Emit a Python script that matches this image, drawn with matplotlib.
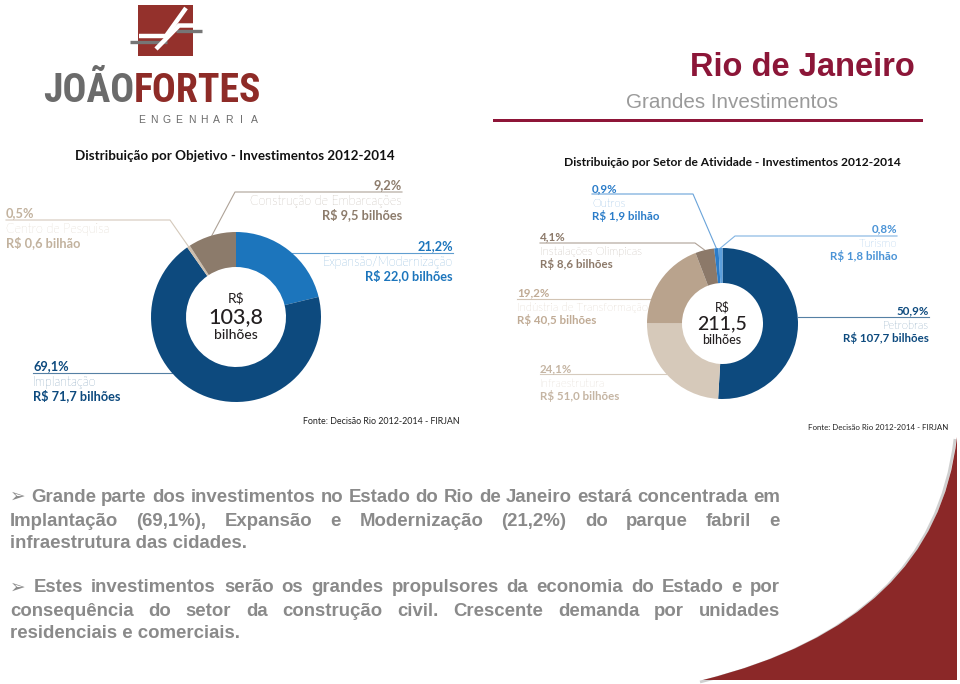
import numpy as np
import matplotlib
matplotlib.use('Agg')
import matplotlib.pyplot as plt
from matplotlib import font_manager
from matplotlib.patches import Rectangle, PathPatch
from matplotlib.path import Path

# ---- data ----
obj_title = 'Distribuição por Objetivo - Investimentos 2012-2014'
obj_names = ['Expansão/Modernização', 'Implantação', 'Centro de Pesquisa',
             'Construção de Embarcações']
obj_pct = ['21,2%', '69,1%', '0,5%', '9,2%']
obj_values = [22.0, 71.7, 0.6, 9.5]
obj_money = ['R$ 22,0 bilhões', 'R$ 71,7 bilhões', 'R$ 0,6 bilhão', 'R$ 9,5 bilhões']
obj_total = '103,8'

sec_title = 'Distribuição por Setor de Atividade - Investimentos 2012-2014'
sec_names = ['Petrobras', 'Infraestrutura', 'Indústria de Transformação',
             'Instalações Olimpicas', 'Outros', 'Turismo']
sec_pct = ['50,9%', '24,1%', '19,2%', '4,1%', '0,9%', '0,8%']
sec_values = [107.7, 51.0, 40.5, 8.6, 1.9, 1.8]
sec_money = ['R$ 107,7 bilhões', 'R$ 51,0 bilhões', 'R$ 40,5 bilhões',
             'R$ 8,6 bilhões', 'R$ 1,9 bilhão', 'R$ 1,8 bilhão']
sec_total = '211,5'

source = 'Fonte: Decisão Rio 2012-2014 - FIRJAN'

body_lines = [
    '➢ Grande parte dos investimentos no Estado do Rio de Janeiro estará concentrada em',
    'Implantação (69,1%), Expansão e Modernização (21,2%) do parque fabril e',
    'infraestrutura das cidades.',
    '➢ Estes investimentos serão os grandes propulsores da economia do Estado e por',
    'consequência do setor da construção civil. Crescente demanda por unidades',
    'residenciais e comerciais.',
]

# ---- styles / layout ----
W, H = 960, 684
obj_colors = ['#1c75bc', '#0d4a7e', '#cdbfae', '#8c7b6b']
obj_text_colors = ['#1c75bc', '#0d4a7e', '#c2b29e', '#8c7b6b']
sec_colors = ['#0d4a7e', '#d6c9ba', '#b9a38d', '#8c7969', '#2a7cc9', '#5c9fdc']
sec_text_colors = ['#0d4a7e', '#c5b5a3', '#c0ab95', '#8c7969', '#2a7cc9', '#4a93d6']

# (x, y of percent line, alignment, leader y, elbow x)
obj_layout = [(453, 246, 'right', 253, None), (33, 366, 'left', 373, None),
              (6, 213, 'left', 220, 170), (402, 185, 'right', 192, 235)]
sec_layout = [(929, 310, 'right', 317, None), (540, 368, 'left', 374, None),
              (517, 292, 'left', 299, None), (540, 236, 'left', 243, 695),
              (592, 188, 'left', 194, 693), (897, 228, 'right', 236, 735)]
body_y = [497, 521, 544, 588, 611, 633]
body_just = [True, True, False, True, True, False]

fig = plt.figure(figsize=(9.6, 6.84), dpi=100)
renderer = fig.canvas.get_renderer()
bg = fig.add_axes([0, 0, 1, 1])
bg.set_xlim(0, W)
bg.set_ylim(H, 0)
bg.set_axis_off()

available = {f.name for f in font_manager.fontManager.ttflist}


def fit_size(text, width, size0=10, **kw):
    t = bg.text(0, 0, text, fontsize=size0, **kw)
    w = t.get_window_extent(renderer).width
    t.remove()
    return size0 * width / w


def text_width(t):
    return t.get_window_extent(renderer).width


# ---- header / logo ----
bg.add_patch(Rectangle((138, 5), 55, 51, color='#94312c', lw=0))
bg.plot([130, 167], [41.5, 41.5], color='#767676', lw=2.4, solid_capstyle='butt')
bg.plot([139, 166, 186], [36, 36, 8], color='white', lw=3.2,
        solid_capstyle='butt', solid_joinstyle='miter')
bg.plot([176, 202], [30.5, 30.5], color='#767676', lw=2.4, solid_capstyle='butt')
bg.plot([156, 179, 193], [49, 25.5, 25.5], color='white', lw=3.2,
        solid_capstyle='butt', solid_joinstyle='miter')

if 'Roboto Condensed' in available:
    logo_family = 'Roboto Condensed'
elif 'Liberation Sans Narrow' in available:
    logo_family = 'Liberation Sans Narrow'
else:
    logo_family = 'Roboto'
logo_fs = fit_size('JOÃOFORTES', 218, family=logo_family, fontweight='bold')
t1 = bg.text(43, 102, 'JOÃO', fontsize=logo_fs, family=logo_family, fontweight='bold',
             color='#6b6b6b', va='baseline')
bg.text(43 + text_width(t1), 102, 'FORTES', fontsize=logo_fs, family=logo_family,
        fontweight='bold', color='#8e2b27', va='baseline')
for i, ch in enumerate('ENGENHARIA'):
    bg.text(141.5 + i * 12.5, 123, ch, fontsize=7.5, family='Liberation Sans',
            color='#6b6b6b', ha='center', va='baseline')

fs = fit_size('Rio de Janeiro', 225, family='Liberation Sans', fontweight='bold')
bg.text(915, 76, 'Rio de Janeiro', fontsize=fs, family='Liberation Sans',
        fontweight='bold', color='#8c1638', ha='right', va='baseline')
fs = fit_size('Grandes Investimentos', 213, family='Liberation Sans')
bg.text(838, 108, 'Grandes Investimentos', fontsize=fs, family='Liberation Sans',
        color='#9a9a9a', ha='right', va='baseline')
bg.add_patch(Rectangle((493, 118.5), 430, 3.5, color='#8e1538', lw=0))

# ---- decorative corner ----
corner = Path([(957, 437), (936, 622), (703, 680), (957, 680), (957, 437)],
              [Path.MOVETO, Path.CURVE3, Path.CURVE3, Path.LINETO, Path.CLOSEPOLY])
shadow = Path([(955, 439), (933, 625), (700, 682)],
              [Path.MOVETO, Path.CURVE3, Path.CURVE3])
bg.add_patch(PathPatch(shadow, fill=False, ec='#b0b0b0', lw=2, alpha=0.6))
bg.add_patch(PathPatch(corner, fc='#8b2828', ec='none'))


# ---- donuts ----
def donut(values, colors, cx, cy, r, r_in):
    ax = fig.add_axes([(cx - r) / W, 1 - (cy + r) / H, 2 * r / W, 2 * r / H])
    ax.pie(values, colors=colors, startangle=90, counterclock=False, radius=1,
           wedgeprops=dict(width=1 - r_in / r, linewidth=0))
    ax.set_xlim(-1, 1)
    ax.set_ylim(-1, 1)
    ax.set_axis_off()
    return ax


def labels(values, pct, names, money, tcolors, layout, cx, cy, r, fs, name_fs, dy):
    total = sum(values)
    for i, (x, y, ha, ly, ex) in enumerate(layout):
        c = tcolors[i]
        bg.text(x, y + 4, pct[i], ha=ha, va='baseline', fontsize=fs, fontweight='bold',
                color=c, family='Lato')
        bg.text(x, y + 5.5 + dy, names[i], ha=ha, va='baseline', fontsize=name_fs,
                fontweight='light', color=c, family='Lato')
        bg.text(x, y + 5 + 2 * dy, money[i], ha=ha, va='baseline', fontsize=fs,
                fontweight='bold', color=c, family='Lato')
        if ex is None:
            side = 1 if ha == 'right' else -1
            end = cx + side * np.sqrt(r ** 2 - (ly - cy) ** 2)
            xs, ys = [x, end], [ly, ly]
        else:
            frac = (sum(values[:i]) + values[i] / 2) / total
            a = np.deg2rad(90 - 360 * frac)
            xs = [x, ex, cx + r * np.cos(a)]
            ys = [ly, ly, cy - r * np.sin(a)]
        bg.plot(xs, ys, color=c, lw=0.8, alpha=0.7)


donut(obj_values, obj_colors, 236, 317, 85, 50)
labels(obj_values, obj_pct, obj_names, obj_money, obj_text_colors, obj_layout,
       236, 317, 85, 9.2, 9.0, 14.6)
bg.text(236, 298, 'R$', ha='center', va='center', fontsize=10, family='Lato', color='#231f20')
bg.text(236, 317, obj_total, ha='center', va='center', fontsize=15.5, family='Lato',
        fontweight='medium', color='#231f20')
bg.text(236, 335, 'bilhões', ha='center', va='center', fontsize=10, family='Lato',
        fontweight='medium', color='#231f20')

donut(sec_values, sec_colors, 722.5, 323.5, 75.5, 40.5)
labels(sec_values, sec_pct, sec_names, sec_money, sec_text_colors, sec_layout,
       722.5, 323.5, 75.5, 8.3, 8.1, 13.5)
bg.text(722, 307, 'R$', ha='center', va='center', fontsize=9, family='Lato', color='#231f20')
bg.text(722, 324, sec_total, ha='center', va='center', fontsize=14, family='Lato',
        fontweight='medium', color='#231f20')
bg.text(722, 340, 'bilhões', ha='center', va='center', fontsize=9, family='Lato',
        fontweight='medium', color='#231f20')

# titles and sources
fs = fit_size(obj_title, 317, family='Lato', fontweight='bold')
bg.text(235, 156, obj_title, ha='center', va='center', fontsize=fs, family='Lato',
        fontweight='bold', color='#111111')
fs = fit_size(sec_title, 339, family='Lato', fontweight='bold')
bg.text(732, 163, sec_title, ha='center', va='center', fontsize=fs, family='Lato',
        fontweight='bold', color='#111111')
fs = fit_size(source, 157, family='Lato')
bg.text(303, 421, source, ha='left', va='center', fontsize=fs, family='Lato', color='#222222')
fs = fit_size(source, 140, family='Lato')
bg.text(808, 427, source, ha='left', va='center', fontsize=fs, family='Lato', color='#222222')

# ---- body text (justified) ----
body_kw = dict(family=['Liberation Sans', 'DejaVu Sans'], fontweight='bold', color='#8a8a8a')
body_fs = fit_size(body_lines[0], 770, **body_kw)
x0, x1 = 10, 780
for line, y, just in zip(body_lines, body_y, body_just):
    if not just:
        bg.text(x0, y, line, ha='left', va='center', fontsize=body_fs, **body_kw)
        continue
    words = line.split(' ')
    arts = [bg.text(0, y, w, ha='left', va='center', fontsize=body_fs, **body_kw) for w in words]
    widths = [text_width(a) for a in arts]
    gap = (x1 - x0 - sum(widths)) / (len(words) - 1)
    x = x0
    for a, w in zip(arts, widths):
        a.set_x(x)
        x += w + gap

fig.savefig('out.png', dpi=100)
